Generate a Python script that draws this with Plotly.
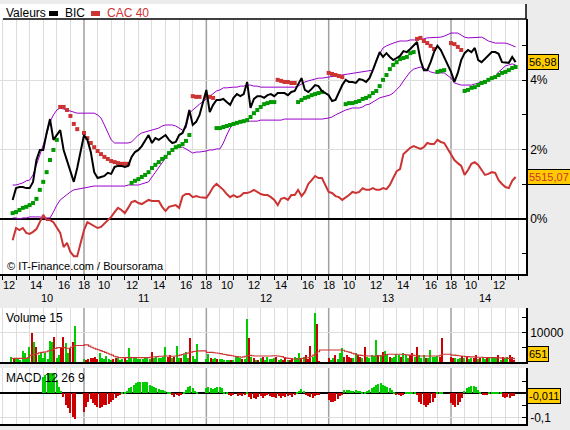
import plotly.graph_objects as go

W, H = 570, 430
FONT = "Liberation Sans, Arial, sans-serif"

# ------------------------------------------------------------------ data
days = ["10", "11", "12", "13", "14"]
session_span = 9                    # axis hours per session (09:00 -> 18:00)
main_first_slot = [15, 0, 0, 0, 0]  # first quarter-hour slot shown per day
sub_first_slot = [22, 0, 0, 0, 0]   # first ten-minute slot shown per day
hour_labels = ["10", "12", "14", "16", "18"]

bic_last_price = 56.98
cac_last_price = 5515.07

# BIC, % change (quarter-hour)
bic_pct = [
    [0.55, 0.89, 0.92, 0.92, 0.89, 0.89, 1.07, 1.70, 1.99, 1.99, 2.48, 2.88, 2.28, 2.42, 2.56, 1.99, 1.70, 1.41, 1.07, 1.47],
    [2.42, 2.28, 1.93, 1.35, 1.18, 1.21, 1.24, 1.33, 1.30, 1.50, 1.53, 1.53, 1.50, 1.53, 1.79, 1.93, 1.99, 2.10, 2.28, 2.42,
     2.19, 2.33, 2.28, 2.36, 2.42, 2.28, 2.19, 2.22, 2.42, 2.48, 2.71, 3.14, 2.71, 2.80, 3.00],
    [3.72, 3.08, 3.29, 3.43, 3.43, 3.46, 3.37, 3.29, 3.49, 3.60, 3.54, 3.60, 3.95, 3.20, 3.46, 3.54, 3.54, 3.49, 3.57, 3.60,
     3.54, 3.63, 3.63, 3.63, 3.57, 3.66, 3.69, 3.89, 4.06, 3.72, 3.66, 3.75, 3.86, 3.83, 3.69],
    [3.57, 3.40, 3.43, 3.66, 3.86, 4.01, 3.95, 3.95, 3.92, 4.03, 4.01, 3.95, 4.06, 4.29, 4.58, 4.81, 4.67, 4.78, 4.67, 4.58,
     4.64, 4.70, 4.84, 4.81, 4.90, 4.99, 5.10, 4.58, 4.29, 4.29, 4.52, 4.81, 4.99, 4.87, 4.67],
    [4.24, 3.95, 4.21, 4.58, 4.78, 4.87, 4.81, 4.93, 4.58, 4.52, 4.61, 4.70, 4.81, 4.81, 4.76, 4.52, 4.52, 4.50, 4.67, 4.52],
]

# CAC 40, % change (quarter-hour)
cac_pct = [
    [-0.61, -0.26, -0.32, -0.26, -0.40, -0.43, -0.37, -0.29, -0.09, 0.12, -0.03, -0.03, -0.09, -0.23, -0.40, -0.81, -0.69, -0.95, -1.07, -1.07],
    [-0.32, -0.09, -0.14, -0.20, -0.26, -0.23, -0.14, -0.03, 0.06, 0.20, 0.32, 0.26, 0.17, 0.32, 0.49, 0.52, 0.46, 0.43, 0.49, 0.55,
     0.52, 0.52, 0.52, 0.35, 0.23, 0.35, 0.37, 0.40, 0.32, 0.66, 0.72, 0.72, 0.63, 0.66, 0.63],
    [0.61, 0.75, 0.92, 1.01, 0.92, 0.84, 0.72, 0.63, 0.69, 0.63, 0.66, 0.75, 0.75, 0.78, 0.84, 0.78, 0.72, 0.69, 0.69, 0.63,
     0.55, 0.40, 0.58, 0.61, 0.55, 0.69, 0.69, 0.84, 0.66, 0.78, 1.01, 1.12, 1.24, 1.18, 1.18],
    [0.78, 0.75, 0.66, 0.63, 0.55, 0.61, 0.69, 0.78, 0.75, 0.78, 0.89, 0.84, 0.84, 0.89, 0.84, 0.84, 0.89, 0.86, 0.98, 1.18,
     1.38, 1.44, 1.87, 1.96, 2.05, 2.10, 2.05, 2.02, 2.07, 2.19, 2.16, 2.16, 2.28, 2.22, 2.19],
    [1.84, 1.70, 1.61, 1.53, 1.27, 1.41, 1.59, 1.64, 1.56, 1.41, 1.27, 1.30, 1.35, 1.33, 1.12, 1.01, 0.92, 0.89, 1.10, 1.21],
]

# Bollinger bands on BIC, %
boll_up = [
    [0.98, 0.98, 1.01, 1.04, 1.10, 1.12, 1.27, 1.56, 1.84, 2.13, 2.42, 2.80, 3.00, 3.14, 3.20, 3.17, 3.14, 3.11, 3.08, 3.05],
    [3.05, 3.05, 3.05, 3.05, 3.00, 2.91, 2.71, 2.51, 2.28, 2.19, 2.19, 2.19, 2.19, 2.19, 2.22, 2.33, 2.42, 2.48, 2.51, 2.54,
     2.56, 2.59, 2.62, 2.68, 2.71, 2.71, 2.71, 2.68, 2.62, 2.56, 2.62, 3.05, 3.14, 3.23, 3.31],
    [3.46, 3.54, 3.63, 3.69, 3.72, 3.78, 3.78, 3.80, 3.80, 3.80, 3.83, 3.83, 3.86, 3.86, 3.83, 3.83, 3.80, 3.80, 3.80, 3.80,
     3.80, 3.80, 3.80, 3.80, 3.80, 3.80, 3.80, 3.83, 3.89, 3.95, 3.98, 4.01, 4.03, 4.06, 4.06],
    [4.09, 4.12, 4.12, 4.15, 4.15, 4.18, 4.18, 4.21, 4.21, 4.24, 4.24, 4.27, 4.29, 4.29, 4.58, 4.76, 4.93, 4.99, 5.04, 5.07,
     5.10, 5.13, 5.13, 5.13, 5.16, 5.16, 5.16, 5.19, 5.19, 5.22, 5.22, 5.22, 5.24, 5.24, 5.27],
    [5.36, 5.36, 5.36, 5.30, 5.24, 5.22, 5.22, 5.24, 5.24, 5.24, 5.19, 5.13, 5.10, 5.07, 5.07, 5.07, 5.07, 5.04, 5.01, 4.96],
]
boll_lo = [
    [0.03, 0.03, 0.00, 0.03, 0.03, 0.06, 0.06, 0.06, 0.06, 0.03, 0.03, 0.03, 0.20, 0.40, 0.55, 0.63, 0.72, 0.78, 0.84, 0.86],
    [0.89, 0.92, 0.95, 0.95, 0.95, 0.95, 0.95, 0.95, 0.95, 0.95, 0.95, 0.95, 0.95, 0.98, 0.98, 0.98, 0.98, 1.01, 1.04, 1.07,
     1.21, 1.35, 1.50, 1.64, 1.76, 1.90, 1.99, 2.05, 2.07, 2.07, 2.02, 1.96, 1.90, 1.93, 1.93],
    [1.96, 1.99, 1.99, 2.02, 2.02, 2.19, 2.42, 2.62, 2.74, 2.77, 2.80, 2.80, 2.82, 2.82, 2.82, 2.82, 2.85, 2.85, 2.85, 2.85,
     2.85, 2.85, 2.85, 2.88, 2.88, 2.88, 2.88, 2.88, 2.88, 2.88, 2.88, 2.88, 2.88, 2.88, 2.88],
    [2.91, 2.94, 3.00, 3.05, 3.08, 3.14, 3.17, 3.20, 3.20, 3.20, 3.23, 3.29, 3.31, 3.37, 3.43, 3.49, 3.52, 3.54, 3.57, 3.63,
     3.72, 3.83, 3.98, 4.12, 4.24, 4.32, 4.35, 4.38, 4.35, 4.29, 4.24, 4.21, 4.21, 4.21, 4.21],
    [4.06, 3.92, 3.89, 3.86, 3.86, 3.86, 3.86, 3.89, 3.92, 3.95, 3.98, 4.01, 4.03, 4.09, 4.24, 4.32, 4.41, 4.44, 4.47, 4.44],
]

# Parabolic SAR on BIC, % ; side G = below price (bullish), R = above price
sar_pct = [
    [0.17, 0.20, 0.26, 0.32, 0.35, 0.40, 0.46, 0.58, 0.84, 1.07, 1.35, 1.70, 1.99, 2.28, 3.23, 3.23, 3.14, 2.97, 2.74, 2.59],
    [2.48, 2.33, 2.19, 2.07, 1.96, 1.87, 1.79, 1.73, 1.67, 1.64, 1.61, 1.59, 1.59, 1.59, 1.04, 1.10, 1.15, 1.21, 1.27, 1.35,
     1.47, 1.56, 1.64, 1.73, 1.79, 1.90, 1.99, 2.07, 2.10, 2.16, 2.25, 2.42, 3.54, 3.52, 3.52],
    [3.52, 3.52, 3.49, 2.62, 2.62, 2.65, 2.68, 2.71, 2.74, 2.77, 2.80, 2.82, 2.85, 2.94, 3.05, 3.14, 3.23, 3.31, 3.34, 3.37,
     3.37, 4.01, 3.98, 3.95, 3.95, 3.92, 3.92, 3.37, 3.43, 3.49, 3.52, 3.57, 3.60, 3.63, 3.66],
    [4.21, 4.18, 4.15, 4.12, 4.09, 3.31, 3.34, 3.34, 3.37, 3.40, 3.46, 3.49, 3.54, 3.63, 3.69, 3.83, 4.01, 4.15, 4.32, 4.44,
     4.52, 4.61, 4.64, 4.67, 4.78, 4.81, 5.19, 5.22, 5.13, 5.07, 4.99, 4.90, 4.24, 4.27, 4.29],
    [5.07, 5.04, 4.96, 4.87, 3.69, 3.72, 3.78, 3.80, 3.86, 3.92, 3.95, 4.01, 4.06, 4.09, 4.15, 4.21, 4.24, 4.29, 4.35, 4.38],
]
sar_side = [
    "GGGGGGGGGGGGGGRRRRRR",
    "RRRRRRRRRRRRRRGGGGGGGGGGGGGGGGGGRRR",
    "RRRGGGGGGGGGGGGGGGGGGRRRRRRGGGGGGGG",
    "RRRRRGGGGGGGGGGGGGGGGGGGGGRRRRRRGGG",
    "RRRRGGGGGGGGGGGGGGGG",
]

# Volume (ten-minute bars) ; G = up bar, R = down bar
volume = [
    [1900, 1500, 1500, 1100, 800, 3800, 3000, 1200, 5200, 9900, 6900, 5200, 2400, 3500, 1500, 3000, 1200, 7100, 6700, 8500,
     1500, 2400, 4700, 8500, 6300, 3000, 4700, 6900, 12200],
    [1000, 800, 1100, 1500, 1300, 1900, 1200, 3000, 1500, 1200, 2000, 1100, 900, 1000, 1300, 1300, 800, 1200, 1300, 900,
     4900, 1600, 1300, 1300, 1100, 1100, 1200, 1300, 1300, 1000, 3500, 1300, 1800, 1500, 1300, 1800, 5200, 1800, 2600, 1300,
     1800, 5400, 1500, 1300, 2300, 3300, 1500, 8000, 2000, 1200, 6000],
    [1200, 2700, 1300, 1100, 1300, 1100, 1000, 1000, 800, 800, 800, 900, 800, 1900, 1700, 1500, 1100, 1000, 14400, 8000,
     1900, 1600, 800, 800, 1300, 1900, 900, 1900, 1100, 1100, 1300, 1900, 800, 1000, 800, 1300, 800, 900, 1300, 1900,
     1300, 3000, 1300, 1900, 2400, 1100, 5500, 1900, 16300, 12700, 600],
    [1600, 800, 1600, 2400, 1200, 3000, 4900, 1900, 2400, 1900, 1600, 1600, 3000, 2400, 1900, 1300, 5200, 1900, 1300, 2400,
     2200, 7400, 2400, 2400, 3500, 3800, 2400, 1900, 1300, 1900, 2700, 2400, 1900, 3000, 2400, 1300, 2400, 3000, 1900, 5200,
     2400, 1600, 2400, 1600, 1300, 4100, 1900, 1900, 2200, 1900, 8000],
    [1900, 1300, 1300, 1100, 1300, 2200, 1300, 1900, 1000, 1300, 1300, 2400, 1100, 1300, 1900, 1100, 1900, 1300, 1600, 1900,
     1300, 2400, 800, 1900, 1300, 1900, 2400, 1900, 651],
]
vol_side = [
    "GRGGGGGGGRGRGGGGGGGRGGRRGGRRG",
    "GRRRRRRGGG" "GGGRRGGGRG" "GGGGGGGGGG" "RGGGGGGRRG" "RGGRGGGRGG" "G",
    "GGRGGRGGGG" "GRGGGGRGGR" "GRGRGRGGGG" "GRGGRRGRRG" "GGRGRRRGGR" "R",
    "RGGRGGGRRR" "RGGRRGRGGG" "GGRGRGGRGG" "GGRGGGRRGR" "GGGRGGGGGR" "R",
    "RRGGGRGRGG" "RRGRGGRGGG" "GRGRGGRRR",
]
vol_ma = [
    [1300, 1300, 1300, 1300, 1300, 1300, 1300, 1600, 2400, 2500, 2700, 2900, 3200, 3300, 3400, 3500, 3800, 4000, 4300, 4600,
     4900, 4900, 4900, 4900, 4700, 4700, 5000, 5400, 5600],
    [5800, 5800, 5400, 5000, 4700, 4400, 4200, 3900, 3600, 3300, 3000, 2700, 2400, 2000, 1800, 1600, 1550, 1550, 1550, 1550,
     1550, 1550, 1550, 1550, 1550, 1550, 1550, 1550, 1550, 1650, 1750, 1850, 1900, 2000, 2000, 2100, 2100, 2100, 2000, 2000,
     2100, 2200, 2400, 2600, 2800, 3000, 3200, 3400, 3600, 3700, 3800],
    [3300, 3300, 3300, 3200, 3100, 3000, 2900, 2700, 2600, 2400, 2300, 2200, 2000, 1900, 1800, 1700, 1800, 2000, 2300, 2300,
     2200, 2100, 2100, 2100, 2100, 2100, 2100, 2100, 2100, 2200, 2200, 2100, 2000, 1900, 1600, 1400, 1300, 1200, 1100, 1100,
     1100, 1200, 1300, 1400, 1500, 1600, 2000, 2400, 3000, 3500, 4100],
    [4100, 4100, 4100, 4100, 4100, 4100, 4000, 3700, 3500, 3300, 3000, 2800, 2500, 2400, 2300, 2200, 2200, 2100, 2100, 2100,
     2100, 2200, 2200, 2200, 2400, 2600, 2700, 2700, 2700, 2700, 2700, 2700, 2700, 2600, 2500, 2400, 2400, 2300, 2200, 2100,
     2100, 2100, 2100, 2100, 2100, 2100, 2100, 2100, 2100, 2300, 2700],
    [2400, 2400, 2300, 2200, 2100, 2000, 1900, 1900, 1800, 1800, 1800, 1700, 1700, 1700, 1600, 1600, 1600, 1550, 1550, 1550,
     1500, 1500, 1400, 1400, 1400, 1300, 1300, 1300, 1000],
]

# MACD (12, 26, 9) histogram, ten-minute bars
macd = [
    [None] * 14 + [0.069, 0.076, 0.083, 0.083, 0.083, 0.079, 0.056, 0.028, 0.010, -0.014, -0.049, -0.060, -0.080, -0.100, -0.108],
    [-0.076, -0.056, -0.035, -0.024, -0.042, -0.049, -0.058, -0.060, -0.056, -0.049, -0.049, -0.046, -0.035, -0.028, -0.021,
     -0.010, -0.004, 0.004, 0.007, 0.010, 0.021, 0.028, 0.035, 0.042, 0.046, 0.046, 0.049, 0.049, 0.046, 0.035,
     0.031, 0.028, 0.024, 0.017, 0.014, 0.014, 0.010, 0.007, 0.004, -0.004, -0.014, -0.007, -0.010, -0.004, 0.004,
     0.014, 0.028, 0.031, 0.021, 0.010, 0.004],
    [0.024, 0.028, 0.021, 0.018, 0.024, 0.028, 0.028, 0.024, 0.004, 0.003, -0.007, -0.010, -0.003, 0.0, -0.010,
     -0.007, -0.010, -0.004, 0.004, -0.014, -0.024, -0.021, -0.024, -0.014, -0.010, -0.021, -0.010, -0.007, -0.010, -0.014,
     -0.014, -0.018, -0.010, -0.018, -0.010, -0.014, -0.010, -0.007, -0.014, -0.007, 0.004, 0.010, 0.018, 0.010, -0.007,
     -0.010, -0.014, -0.018, -0.010, -0.007, -0.004],
    [-0.028, -0.035, -0.035, -0.032, -0.024, -0.010, -0.004, 0.014, 0.014, 0.014, 0.010, 0.010, 0.014, 0.010, 0.010,
     0.004, 0.007, 0.010, 0.014, 0.021, 0.028, 0.035, 0.038, 0.042, 0.035, 0.032, 0.028, 0.021, 0.014, 0.007,
     -0.004, -0.007, -0.010, -0.004, 0.004, 0.007, 0.004, 0.004, 0.004, -0.007, -0.035, -0.046, -0.049, -0.056, -0.049,
     -0.042, -0.035, -0.021, 0.004, 0.004, 0.002],
    [-0.042, -0.050, -0.056, -0.049, -0.035, -0.021, 0.010, 0.021, 0.028, 0.031, 0.032, 0.028, 0.014, 0.004, -0.004,
     -0.004, -0.004, 0.004, 0.007, 0.004, 0.007, 0.004, 0.004, -0.014, -0.018, -0.014, -0.018, -0.010, -0.011],
]

# ------------------------------------------------------------------ helpers
def flat(series):
    return [v for day in series for v in day]


def times(first_slots, series, slot_hours):
    out = []
    for d, (f, vals) in enumerate(zip(first_slots, series)):
        out += [d * session_span + (f + i) * slot_hours for i in range(len(vals))]
    return out


def px_x(px):
    return px / W


def px_y(px):
    return 1 - px / H


t_main = times(main_first_slot, bic_pct, 0.25)
t_sub = times(sub_first_slot, volume, 1 / 6)

GREEN_SAR, RED = "#009900", "#CC3333"
GREEN_BAR, RED_BAR = "#00CC00", "#CC0000"
PURPLE = "#9900CC"
GRID = "#DDDDDD"
SEP = "#A0A0A0"

X_RANGE = [2.82, 41.516]

fig = go.Figure()

# ---- main panel
fig.add_trace(go.Scatter(x=t_main, y=flat(boll_up), mode="lines", line=dict(color=PURPLE, width=1),
                         xaxis="x", yaxis="y"))
fig.add_trace(go.Scatter(x=t_main, y=flat(boll_lo), mode="lines", line=dict(color=PURPLE, width=1),
                         xaxis="x", yaxis="y"))
sar_all = flat(sar_pct)
side_all = "".join(sar_side)
for side, col in (("G", GREEN_SAR), ("R", RED)):
    fig.add_trace(go.Scatter(
        x=[t for t, s in zip(t_main, side_all) if s == side],
        y=[v for v, s in zip(sar_all, side_all) if s == side],
        mode="markers", marker=dict(symbol="square", size=4, color=col, line=dict(width=0)),
        xaxis="x", yaxis="y"))
fig.add_trace(go.Scatter(x=t_main, y=flat(cac_pct), mode="lines", line=dict(color=RED, width=2),
                         xaxis="x", yaxis="y"))
fig.add_trace(go.Scatter(x=t_main, y=flat(bic_pct), mode="lines", line=dict(color="black", width=2),
                         xaxis="x", yaxis="y"))

# ---- volume panel
vol_all = flat(volume)
vside_all = "".join(vol_side)
fig.add_trace(go.Bar(x=t_sub, y=vol_all, width=0.1,
                     marker=dict(color=[GREEN_BAR if s == "G" else RED_BAR for s in vside_all], line=dict(width=0)),
                     xaxis="x2", yaxis="y2"))
fig.add_trace(go.Scatter(x=t_sub, y=flat(vol_ma), mode="lines", line=dict(color=RED, width=1.1, shape="hv"),
                         xaxis="x2", yaxis="y2"))

# ---- MACD panel
macd_all = flat(macd)
fig.add_trace(go.Bar(x=t_sub, y=macd_all, width=0.1,
                     marker=dict(color=[GREEN_BAR if (v or 0) >= 0 else RED_BAR for v in macd_all], line=dict(width=0)),
                     xaxis="x3", yaxis="y3"))

separators = [d * session_span for d in range(1, len(days))]
hours = [h for h in range(3, 42) if h not in separators]
xdom = [0, px_x(526)]
xcommon = dict(range=X_RANGE, domain=xdom, tickmode="array", tickvals=hours, showticklabels=False,
               showgrid=True, gridcolor=GRID, gridwidth=1, zeroline=False,
               showline=True, linecolor="black", linewidth=1.5, fixedrange=True)

tick_font = dict(family=FONT, size=12, color="black")

fig.update_layout(
    width=W, height=H, margin=dict(l=0, r=0, t=0, b=0),
    paper_bgcolor="#ECECEC", plot_bgcolor="white", showlegend=False, bargap=0,
    font=dict(family=FONT, size=12, color="black"),
    xaxis=dict(**xcommon, anchor="y", ticks="outside", ticklen=4, tickcolor="black",
               minor=dict(tickmode="array", tickvals=separators, ticks="outside", ticklen=4,
                          tickcolor="black", showgrid=False)),
    xaxis2=dict(**xcommon, anchor="y2", matches="x", ticks=""),
    xaxis3=dict(**xcommon, anchor="y3", matches="x", ticks=""),
    yaxis=dict(domain=[px_y(274), px_y(19)], range=[-1.585, 5.764], side="right", anchor="x",
               tickmode="array", tickvals=[0, 2, 4], ticktext=["0%", "2%", "4%"],
               ticks="inside", ticklen=4, tickcolor="black", tickfont=tick_font,
               minor=dict(tickmode="array", tickvals=[-1, 1, 3, 5], ticks="inside", ticklen=4,
                          tickcolor="black", showgrid=False),
               showgrid=True, gridcolor=GRID, zeroline=True, zerolinecolor="black", zerolinewidth=1.5,
               showline=True, linecolor="black", linewidth=1.5, fixedrange=True),
    yaxis2=dict(domain=[px_y(362.3), px_y(308)], range=[0, 18100], side="right", anchor="x2",
                tickmode="array", tickvals=[10000], ticktext=["10000"],
                ticks="inside", ticklen=4, tickcolor="black", tickfont=tick_font,
                minor=dict(tickmode="array", tickvals=[5000, 15000], ticks="inside", ticklen=4,
                           tickcolor="black", showgrid=False),
                showgrid=True, gridcolor=GRID, zeroline=False,
                showline=True, linecolor="black", linewidth=1.5, fixedrange=True),
    yaxis3=dict(domain=[px_y(424), px_y(368)], range=[-0.1279, 0.1054], side="right", anchor="x3",
                tickmode="array", tickvals=[-0.1], ticktext=["-0,1"],
                ticks="inside", ticklen=4, tickcolor="black", tickfont=tick_font,
                minor=dict(tickmode="array", tickvals=[0.05, -0.05], ticks="inside", ticklen=4,
                           tickcolor="black", showgrid=False),
                showgrid=True, gridcolor=GRID, zeroline=True, zerolinecolor="black", zerolinewidth=1.5,
                showline=True, linecolor="black", linewidth=1.5, fixedrange=True),
)

shapes = []
# legend strip background and frame above the main panel
shapes.append(dict(type="rect", xref="paper", yref="paper", x0=0, x1=px_x(526), y0=px_y(19), y1=px_y(4),
                   fillcolor="white", line=dict(width=0), layer="below"))
shapes.append(dict(type="line", xref="paper", yref="paper", x0=px_x(3), x1=px_x(526), y0=px_y(19), y1=px_y(19),
                   line=dict(color="black", width=1.5)))
shapes.append(dict(type="line", xref="paper", yref="paper", x0=px_x(526), x1=px_x(526), y0=px_y(19), y1=px_y(4),
                   line=dict(color="black", width=1.5)))
# legend swatches
shapes.append(dict(type="rect", xref="paper", yref="paper", x0=px_x(49), x1=px_x(58), y0=px_y(16), y1=px_y(11),
                   fillcolor="black", line=dict(width=0)))
shapes.append(dict(type="rect", xref="paper", yref="paper", x0=px_x(91), x1=px_x(100), y0=px_y(16), y1=px_y(11),
                   fillcolor=RED, line=dict(width=0)))
# session separators (drawn under the traces)
for xs in separators:
    for yr in ("y domain", "y2 domain", "y3 domain"):
        shapes.append(dict(type="line", xref="x", yref=yr, x0=xs, x1=xs, y0=0, y1=1,
                           line=dict(color=SEP, width=1.5), layer="below"))
fig.update_layout(shapes=shapes)

ann = []
small = dict(family=FONT, size=11, color="black")
ann.append(dict(text="Valeurs", x=px_x(4), y=px_y(13), xref="paper", yref="paper", xanchor="left",
                yanchor="middle", showarrow=False, font=dict(family=FONT, size=12, color="black")))
ann.append(dict(text="BIC", x=px_x(63), y=px_y(13), xref="paper", yref="paper", xanchor="left",
                yanchor="middle", showarrow=False, font=dict(family=FONT, size=12, color="black")))
ann.append(dict(text="CAC 40", x=px_x(105), y=px_y(13), xref="paper", yref="paper", xanchor="left",
                yanchor="middle", showarrow=False, font=dict(family=FONT, size=12, color=RED)))
ann.append(dict(text="© IT-Finance.com / Boursorama", x=px_x(5), y=px_y(266), xref="paper", yref="paper",
                xanchor="left", yanchor="middle", showarrow=False, font=small))
ann.append(dict(text="Volume 15", x=px_x(4), y=px_y(318), xref="paper", yref="paper", xanchor="left",
                yanchor="middle", showarrow=False, font=dict(family=FONT, size=12, color="black")))
ann.append(dict(text="MACD 12 26 9", x=px_x(4), y=px_y(378), xref="paper", yref="paper", xanchor="left",
                yanchor="middle", showarrow=False, font=dict(family=FONT, size=12, color="black")))

# hour and day labels under the main panel
hour_offsets = [1.5, 3.5, 5.5, 7.5, 9.0]
for d, day in enumerate(days):
    base = d * session_span
    for lab, off in zip(hour_labels, hour_offsets):
        xv = base + off
        if X_RANGE[0] + 0.4 < xv < X_RANGE[1] - 1.0:
            ann.append(dict(text=lab, x=xv, y=px_y(285), xref="x", yref="paper", xanchor="center",
                            yanchor="middle", showarrow=False, font=small))
    first_t = base + main_first_slot[d] * 0.25
    last_t = base + (main_first_slot[d] + len(bic_pct[d])) * 0.25
    ann.append(dict(text=day, x=(first_t + min(last_t, base + session_span)) / 2, y=px_y(298), xref="x",
                    yref="paper", xanchor="center", yanchor="middle", showarrow=False, font=small))


# last-value boxes
def fr(v, nd):
    return f"{v:.{nd}f}".replace(".", ",")


box = dict(xref="paper", xanchor="left", yanchor="middle", showarrow=False, bgcolor="#FFCC00",
           bordercolor="black", borderwidth=1, borderpad=1)
box_font = 11
ann.append(dict(**box, text=fr(bic_last_price, 2), x=px_x(527), y=bic_pct[-1][-1], yref="y",
                font=dict(family=FONT, size=box_font, color="black")))
ann.append(dict(**box, text=fr(cac_last_price, 2), x=px_x(527), y=cac_pct[-1][-1], yref="y",
                font=dict(family=FONT, size=box_font, color=RED)))
box_b = dict(box, yanchor="bottom")
ann.append(dict(**box_b, text=str(volume[-1][-1]), x=px_x(527), y=0, yref="y2",
                font=dict(family=FONT, size=box_font, color="black")))
ann.append(dict(**box, text=fr(macd[-1][-1], 3), x=px_x(527), y=macd[-1][-1], yref="y3",
                font=dict(family=FONT, size=box_font, color="black")))
fig.update_layout(annotations=ann)

fig.write_html("out.html", config={"displayModeBar": False})
